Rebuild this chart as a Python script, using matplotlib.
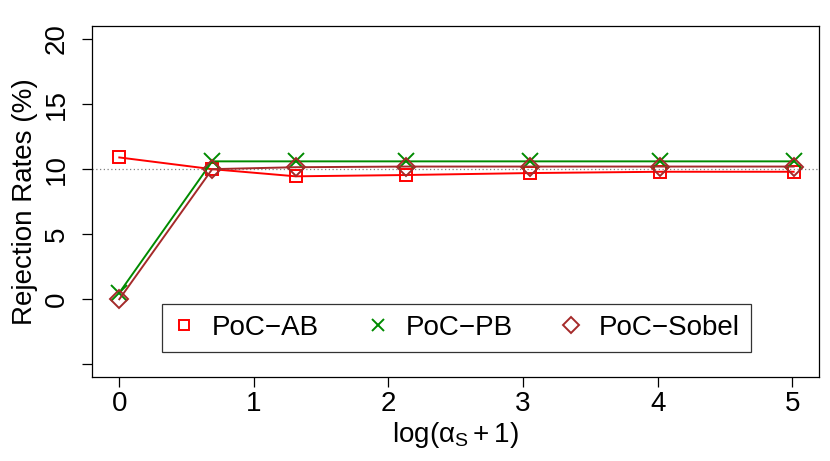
import matplotlib.pyplot as plt
import numpy as np

plt.rcParams['font.family'] = ['Liberation Sans', 'DejaVu Sans']
plt.rcParams['mathtext.fontset'] = 'custom'
plt.rcParams['mathtext.rm'] = 'Liberation Sans'
plt.rcParams['mathtext.it'] = 'Liberation Sans:italic'

# log(alpha_S + 1) values
x = [0.0, 0.69, 1.31, 2.13, 3.05, 4.02, 5.01]

# rejection rates (%)
poc_ab = [10.9, 10.0, 9.45, 9.55, 9.7, 9.8, 9.8]
poc_pb = [0.5, 10.6, 10.6, 10.6, 10.6, 10.6, 10.6]
poc_sobel = [0.0, 10.0, 10.15, 10.2, 10.2, 10.2, 10.2]

xticks = [0, 1, 2, 3, 4, 5]
yticks = [-5, 0, 5, 10, 15, 20]
ytick_labels = ['', '0', '5', '10', '15', '20']

fig = plt.figure(figsize=(8.3, 4.61), dpi=100)
ax = fig.add_axes([0.1113, 0.1815, 0.8757, 0.762])

ax.axhline(10, color='gray', linestyle=(0, (1, 2)), linewidth=0.9, zorder=1)

ax.plot(x, poc_ab, color='#FF0000', marker='s', markersize=9, markerfacecolor='none',
        markeredgewidth=1.4, linewidth=1.4, label='PoC\u2212AB')
ax.plot(x, poc_pb, color='#008B00', marker='x', markersize=11,
        markeredgewidth=1.4, linewidth=1.4, label='PoC\u2212PB')
ax.plot(x, poc_sobel, color='#A52A2A', marker='D', markersize=9, markerfacecolor='none',
        markeredgewidth=1.4, linewidth=1.4, label='PoC\u2212Sobel')

ax.set_xlim(-0.2, 5.2)
ax.set_ylim(-6, 21)
ax.set_xticks(xticks)
ax.set_yticks(yticks)
ax.set_yticklabels(ytick_labels, rotation=90, va='center')
ax.tick_params(axis='both', labelsize=20, length=7.2, width=0.9, direction='out')
ax.tick_params(axis='x', pad=2.5)
ax.tick_params(axis='y', pad=9)

for s in ax.spines.values():
    s.set_linewidth(0.9)

ax.set_xlabel(r'$\mathrm{log(α_S+1)}$', fontsize=20, labelpad=2)
ax.set_ylabel('Rejection Rates (%)', fontsize=20, labelpad=4)

leg = ax.legend(loc='center', ncol=3, mode='expand', fontsize=20,
                bbox_to_anchor=(0.0958, 0.049, 0.810, 0.185), frameon=True,
                fancybox=False, edgecolor='black', handlelength=0.8,
                handletextpad=0.6, borderaxespad=0, markerscale=0.85)
leg.get_frame().set_linewidth(0.9)
for h in leg.get_lines():
    h.set_linestyle('none')

fig.savefig('out.png', dpi=100)
